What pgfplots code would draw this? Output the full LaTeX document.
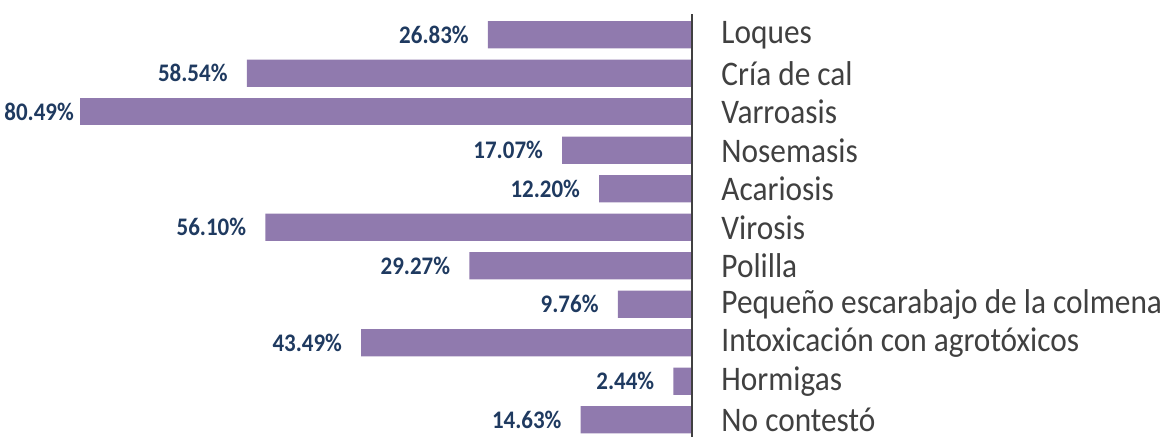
\documentclass[border=0pt]{standalone}
\usepackage{pgfplots}
\pgfplotsset{compat=1.18}
\usepackage{fontspec}
\usepackage{graphicx}
\setmainfont{Carlito}
\definecolor{barc}{RGB}{144,122,174}
\definecolor{valc}{RGB}{31,58,96}
\definecolor{catc}{RGB}{64,64,64}
\newcommand{\vs}[1]{\scalebox{1}[1.1]{#1}}
\begin{document}
\begin{tikzpicture}
\begin{axis}[
  x=5.73pt, y=29.0pt,
  x dir=reverse, y dir=reverse,
  xmin=0, xmax=90.3,
  ymin=-0.905, ymax=10.44,
  axis lines=none,
  clip=false,
  xbar, bar width=20.5pt, bar shift=0pt,
  point meta=x,
  nodes near coords={\vs{\pgfmathprintnumber[fixed,fixed zerofill,precision=2,assume math mode=true]{\pgfplotspointmeta}\%}},
  every node near coord/.append style={anchor=east, xshift=-11pt, font=\fontsize{17.3}{20}\selectfont\bfseries, text=valc},
]
\path (axis cs:90.3,-0.905) -- (axis cs:-61.8,10.44);
\addplot[fill=barc, draw=none] coordinates {
(26.83,0) (58.54,1) (17.07,3) (12.20,4) (56.10,5)
(29.27,6) (9.76,7) (43.49,8) (2.44,9) (14.63,10)};
\addplot[fill=barc, draw=none, every node near coord/.append style={xshift=10pt}] coordinates {
(80.49,2)};
\draw[catc, line width=2.25pt] (axis cs:0,-0.54) -- (axis cs:0,10.44);
\tikzset{cat/.style={anchor=west, xshift=22pt, inner sep=0pt, font=\fontsize{23.6}{26}\selectfont, text=catc}}
\node[cat] at (axis cs:0,0) {\vs{Loques}};
\node[cat] at (axis cs:0,1) {\vs{Cría de cal}};
\node[cat] at (axis cs:0,2) {\vs{Varroasis}};
\node[cat] at (axis cs:0,3) {\vs{Nosemasis}};
\node[cat] at (axis cs:0,4) {\vs{Acariosis}};
\node[cat] at (axis cs:0,5) {\vs{Virosis}};
\node[cat] at (axis cs:0,6) {\vs{Polilla}};
\node[cat] at (axis cs:0,7) {\vs{Pequeño escarabajo de la colmena}};
\node[cat] at (axis cs:0,8) {\vs{Intoxicación con agrotóxicos}};
\node[cat] at (axis cs:0,9) {\vs{Hormigas}};
\node[cat] at (axis cs:0,10) {\vs{No contestó}};
\end{axis}
\end{tikzpicture}
\end{document}
